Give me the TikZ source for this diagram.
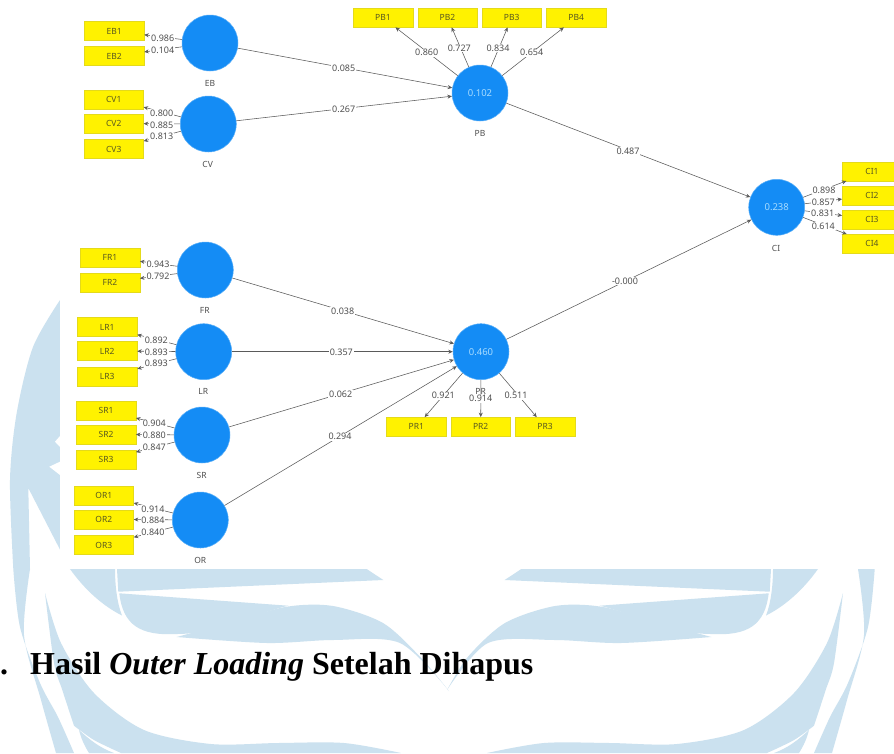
\documentclass[tikz,border=0pt]{standalone}
\usepackage{fontspec}
\setmainfont{Liberation Serif}
\newfontfamily\lblfont{Noto Sans}
\usetikzlibrary{arrows.meta}
\definecolor{wm}{HTML}{CBE1EF}
\definecolor{circ}{HTML}{148CF5}
\definecolor{ytxt}{HTML}{5A5A20}
\definecolor{gtxt}{HTML}{505050}
\definecolor{inv}{HTML}{A8DCFF}
\definecolor{lnk}{HTML}{5A5A5A}
\tikzset{
  lat/.style={circle,fill=circ,draw=circ!70!white,line width=0.5pt,minimum size=56pt,inner sep=0pt,text=inv,font=\lblfont\fontsize{9.5}{11}\selectfont},
  ybox/.style={rectangle,fill=yellow,draw=yellow!88!black,line width=0.4pt,minimum width=59.5pt,minimum height=19pt,inner sep=0pt,text=ytxt,font=\lblfont\fontsize{8.5}{10}\selectfont},
  conn/.style={draw=lnk,line width=0.55pt,-{Stealth[length=4.5pt,width=4pt]}},
  valtxt/.style={fill=white,inner sep=0.8pt,text=gtxt,font=\lblfont\fontsize{9}{10}\selectfont},
  nmtxt/.style={inner sep=0pt,text=gtxt,font=\lblfont\fontsize{8.5}{10}\selectfont},
  headtxt/.style={inner sep=0pt,anchor=base west,font=\fontsize{32}{36}\selectfont\bfseries},
  wmshape/.style={fill=wm,draw=none},
}
\begin{document}
\begin{tikzpicture}[x=1pt,y=-1pt]
\useasboundingbox (0,0) rectangle (894,753);
\clip (0,0) rectangle (894,753);
\fill[white] (0,0) rectangle (894,753);
% watermark, upper left strip
\fill[wmshape] plot[smooth] coordinates {(60,300) (33,347) (16.7,413) (10,480) (13.3,569)} -- (30,569) -- (28.3,488) -- (70,569) -- (70,300) -- cycle;
\fill[white] (55,441.7) -- (60,436) -- (60,447) -- cycle;
\fill[white] (49.3,466.7) -- (60,461.7) -- (60,475) -- cycle;
% watermark, both halves
\foreach \sx/\ox in {1/0,-1/888}{
\begin{scope}[xshift=\ox pt,xscale=\sx]
 \fill[wmshape] plot[smooth] coordinates {(13.3,569) (20,627) (40,683) (58,717) (74,753)} -- plot[smooth] coordinates {(56,753) (41,700) (24,635) (30,569)} -- cycle;
 \fill[wmshape] (70,569) .. controls (85,590) and (103,606) .. (122,615.5) .. controls (117,603) and (115,585) .. (115,569) -- cycle;
 \fill[wmshape] (117,569) -- (366.7,569) -- (383.3,580) -- (118.3,591.7) -- cycle;
 \fill[wmshape] (119.3,593.3) -- (288.3,605.7) .. controls (250,615) and (215,634) .. (177,634) .. controls (140,636) and (123,625) .. (119.3,593.3) -- cycle;
 \fill[wmshape] plot[smooth] coordinates {(45,593) (61,643) (94,693) (144,730) (211,744) (278,743) (344,743) (401,753)} -- (121,753) -- plot[smooth] coordinates {(121,753) (94,740) (74,725.7)} -- plot[smooth] coordinates {(74,725.7) (62.3,690) (54,663) (45,593)} -- cycle;
 \fill[wmshape] (79,730) .. controls (90,740) and (100,748) .. (114,753) -- (89,753) .. controls (84,745) and (81,738) .. (79,730) -- cycle;
\end{scope}}
\fill[wmshape] plot[smooth] coordinates {(176.7,637) (233,621.7) (286.7,606.7) (333,606) (383,623) (420,656.7) (449,691)} -- plot[smooth] coordinates {(449,691) (400,643) (333,640) (267,643) (176.7,637)} -- cycle;
\fill[wmshape] plot[smooth] coordinates {(711.3,637) (655,621.7) (601.3,606.7) (555,606) (505,623) (468,656.7) (447,690)} -- plot[smooth] coordinates {(447,690) (488,643) (555,640) (621,643) (711.3,637)} -- cycle;
% white panel of the screenshot
\fill[white] (59.5,0) rectangle (894,569);
% latent variables
\node[lat] (EB) at (210,43) {};
\node[lat] (CV) at (208.3,124) {};
\node[lat] (PB) at (480,93) {0.102};
\node[lat] (FR) at (205.3,270) {};
\node[lat] (LR) at (203.7,351.7) {};
\node[lat] (SR) at (202,435) {};
\node[lat] (OR) at (200.3,520) {};
\node[lat] (PR) at (481,351.7) {0.460};
\node[lat] (CI) at (776.7,207.3) {0.238};
% indicators
\node[ybox] (EB1) at (114.3,31) {EB1};
\node[ybox] (EB2) at (114.3,56) {EB2};
\node[ybox] (CV1) at (113.7,99.3) {CV1};
\node[ybox] (CV2) at (113.7,123.5) {CV2};
\node[ybox] (CV3) at (113.7,149) {CV3};
\node[ybox] (PB1) at (383,17.7) {PB1};
\node[ybox] (PB2) at (447.5,17.7) {PB2};
\node[ybox] (PB3) at (511.7,17.7) {PB3};
\node[ybox] (PB4) at (576.2,17.7) {PB4};
\node[ybox] (FR1) at (110,257.3) {FR1};
\node[ybox] (FR2) at (110,282.2) {FR2};
\node[ybox] (LR1) at (107.3,327) {LR1};
\node[ybox] (LR2) at (107.3,351) {LR2};
\node[ybox] (LR3) at (107.3,376.5) {LR3};
\node[ybox] (SR1) at (106,410.3) {SR1};
\node[ybox] (SR2) at (106,434.3) {SR2};
\node[ybox] (SR3) at (106,459.8) {SR3};
\node[ybox] (OR1) at (103.8,495.3) {OR1};
\node[ybox] (OR2) at (103.8,519.3) {OR2};
\node[ybox] (OR3) at (103.8,545) {OR3};
\node[ybox] (PR1) at (416.3,426.8) {PR1};
\node[ybox] (PR2) at (480.7,426.8) {PR2};
\node[ybox] (PR3) at (545,426.8) {PR3};
\node[ybox] (CI1) at (872,171.2) {CI1};
\node[ybox] (CI2) at (872,195.3) {CI2};
\node[ybox] (CI3) at (872,219.3) {CI3};
\node[ybox] (CI4) at (872,243.8) {CI4};
% connectors
\foreach \a/\b in {EB/EB1,EB/EB2,CV/CV1,CV/CV2,CV/CV3,PB/PB1,PB/PB2,PB/PB3,PB/PB4,
  FR/FR1,FR/FR2,LR/LR1,LR/LR2,LR/LR3,SR/SR1,SR/SR2,SR/SR3,OR/OR1,OR/OR2,OR/OR3,
  PR/PR1,PR/PR2,PR/PR3,CI/CI1,CI/CI2,CI/CI3,CI/CI4,
  EB/PB,CV/PB,FR/PR,LR/PR,SR/PR,OR/PR,PB/CI,PR/CI}{
  \draw[conn] (\a) -- (\b);
}
% path and loading values
\node[valtxt] (v01) at (162.7,38.3) {0.986};
\node[valtxt] (v02) at (162.7,50) {0.104};
\node[valtxt] (v03) at (161.7,113.3) {0.800};
\node[valtxt] (v04) at (161.7,125) {0.885};
\node[valtxt] (v05) at (161.7,136.7) {0.813};
\node[valtxt] (v06) at (343.7,68.7) {0.085};
\node[valtxt] (v07) at (343.7,109.3) {0.267};
\node[valtxt] (v08) at (426.7,52.7) {0.860};
\node[valtxt] (v09) at (459.3,48.3) {0.727};
\node[valtxt] (v10) at (498,48.3) {0.834};
\node[valtxt] (v11) at (531.7,52.7) {0.654};
\node[valtxt] (v12) at (628,151) {0.487};
\node[valtxt] (v13) at (625,281) {-0.000};
\node[valtxt] (v14) at (158,264.7) {0.943};
\node[valtxt] (v15) at (158,276.3) {0.792};
\node[valtxt] (v16) at (156.3,340.3) {0.892};
\node[valtxt] (v17) at (156.3,352) {0.893};
\node[valtxt] (v18) at (156.3,363.7) {0.893};
\node[valtxt] (v19) at (154.3,423.7) {0.904};
\node[valtxt] (v20) at (154.3,435.3) {0.880};
\node[valtxt] (v21) at (154.3,447.3) {0.847};
\node[valtxt] (v22) at (153,509) {0.914};
\node[valtxt] (v23) at (153,520.7) {0.884};
\node[valtxt] (v24) at (153,532.3) {0.840};
\node[valtxt] (v25) at (342.7,311) {0.038};
\node[valtxt] (v26) at (341.3,352.3) {0.357};
\node[valtxt] (v27) at (340.7,394) {0.062};
\node[valtxt] (v28) at (340,436.7) {0.294};
\node[valtxt] (v29) at (443.3,395.7) {0.921};
\node[valtxt] (v30) at (480.7,398.7) {0.914};
\node[valtxt] (v31) at (516,395.7) {0.511};
\node[valtxt] (v32) at (824,190) {0.898};
\node[valtxt] (v33) at (823.3,202) {0.857};
\node[valtxt] (v34) at (822.7,213.7) {0.831};
\node[valtxt] (v35) at (823.3,226) {0.614};
% construct names
\node[nmtxt] (nEB) at (210,83.3) {EB};
\node[nmtxt] (nCV) at (207.7,164.3) {CV};
\node[nmtxt] (nPB) at (480,133.3) {PB};
\node[nmtxt] (nFR) at (204.7,310) {FR};
\node[nmtxt] (nLR) at (203.3,391.7) {LR};
\node[nmtxt] (nSR) at (201.7,475.3) {SR};
\node[nmtxt] (nOR) at (200.3,560.3) {OR};
\node[nmtxt] (nPR) at (480.7,391.3) {PR};
\node[nmtxt] (nCI) at (776,248) {CI};
% heading
\node[headtxt] (dot) at (0,674.3) {.};
\node[headtxt] (head) at (30,674.3) {Hasil \textit{Outer Loading} Setelah Dihapus};
\end{tikzpicture}
\end{document}
